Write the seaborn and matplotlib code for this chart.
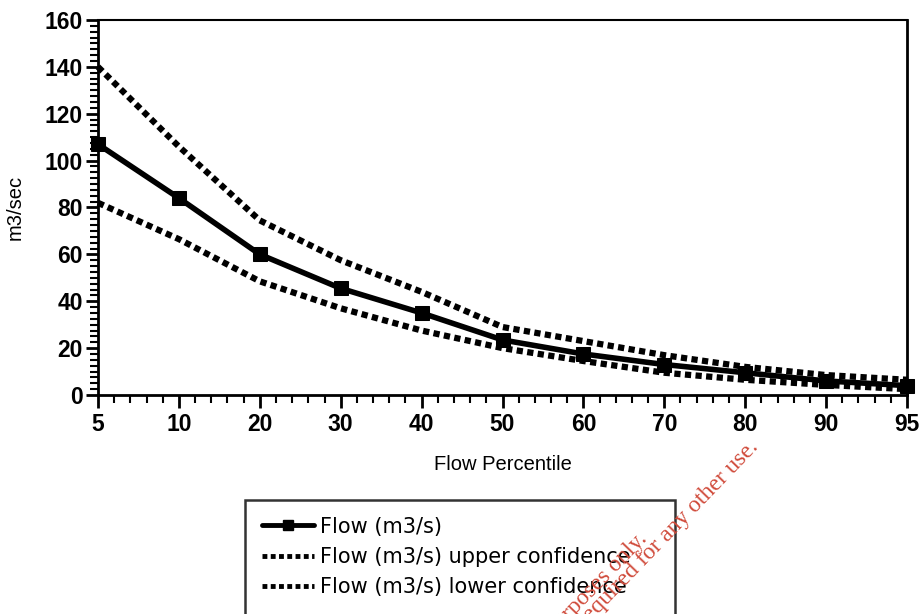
import matplotlib
matplotlib.use("Agg")
import matplotlib.pyplot as plt
from matplotlib.ticker import MultipleLocator
from matplotlib.lines import Line2D
import seaborn as sns
import pandas as pd

percentiles = ["5", "10", "20", "30", "40", "50", "60", "70", "80", "90", "95"]
flow = [107, 84, 60, 45.5, 35, 23.5, 17.5, 13, 9.5, 6, 4]
upper = [140, 106, 74.5, 57.5, 44, 29, 23, 17, 12, 8.5, 6.5]
lower = [82, 66.5, 48.5, 37, 27.5, 20, 14.5, 9.5, 6.5, 4.3, 2.5]

sns.set_theme(style="ticks")
plt.rcParams['font.family'] = ['Liberation Sans', 'DejaVu Sans']
plt.rcParams['text.color'] = 'black'
plt.rcParams['axes.labelcolor'] = 'black'

fig = plt.figure(figsize=(9.23, 6.14), dpi=100)
W, H = 923, 614
ax = fig.add_axes([98 / W, 1 - 395 / H, (907 - 98) / W, (395 - 20) / H])

df = pd.DataFrame({"pct": percentiles, "flow": flow, "upper": upper, "lower": lower})

dot = (0, (1.0, 0.7))
for col in ["upper", "lower"]:
    sns.lineplot(data=df, x="pct", y=col, ax=ax, color="black", linewidth=4.5,
                 linestyle=dot, dash_capstyle="butt", sort=False, zorder=3,
                 clip_on=False)
sns.lineplot(data=df, x="pct", y="flow", ax=ax, color="black", linewidth=4,
             marker="s", markersize=10, markeredgecolor="black", sort=False,
             zorder=4, clip_on=False)

ax.set_xlim(0, len(percentiles) - 1)
ax.set_ylim(0, 160)
ax.yaxis.set_major_locator(MultipleLocator(20))
ax.yaxis.set_minor_locator(MultipleLocator(2.5))
ax.xaxis.set_minor_locator(MultipleLocator(0.2))

for s in ax.spines.values():
    s.set_color("black")
    s.set_linewidth(2)
ax.spines['top'].set_linewidth(1.5)

ax.tick_params(axis="both", which="major", direction="out", length=9, width=2,
               colors="black", labelcolor="black", labelsize=16.5)
ax.tick_params(axis="both", which="minor", direction="out", length=6, width=1.5,
               colors="black")
for lab in ax.get_xticklabels() + ax.get_yticklabels():
    lab.set_fontweight("bold")
ax.tick_params(axis="x", pad=4)
ax.tick_params(axis="y", pad=2)

ax.set_xlabel("Flow Percentile", fontsize=14.5, labelpad=14, color="black")
ax.set_ylabel("m3/sec", fontsize=14.5, labelpad=14, color="black")
ax.grid(False)

handles = [
    Line2D([], [], color="black", lw=3.5, marker="s", markersize=7),
    Line2D([], [], color="black", lw=3.5, linestyle=dot),
    Line2D([], [], color="black", lw=3.5, linestyle=dot),
    Line2D([], [], color="none"),
]
labels = ["Flow (m3/s)", "Flow (m3/s) upper confidence",
          "Flow (m3/s) lower confidence", " "]
leg = fig.legend(handles, labels, loc="upper left",
                 bbox_to_anchor=(245 / W, 0, 430 / W, 1 - 500 / H),
                 mode="expand", frameon=True,
                 fancybox=False, handlelength=2.5,
                 prop={"family": "DejaVu Sans", "size": 15},
                 handletextpad=0.3, labelspacing=0.5, borderpad=0.8,
                 borderaxespad=0, labelcolor="black")
leg.get_frame().set_edgecolor("black")
leg.get_frame().set_linewidth(1.8)

# watermark text
wm_kw = dict(rotation=46, ha="right", va="top", rotation_mode="anchor",
             color="#d04a3a", fontsize=17,
             family=["Liberation Serif", "DejaVu Serif"], zorder=10)
fig.text(748 / W, 1 - 437 / H, "required for any other use.", **wm_kw)
fig.text(636 / W, 1 - 528 / H, "purposes only.", **wm_kw)

fig.savefig("out.png", dpi=100)
